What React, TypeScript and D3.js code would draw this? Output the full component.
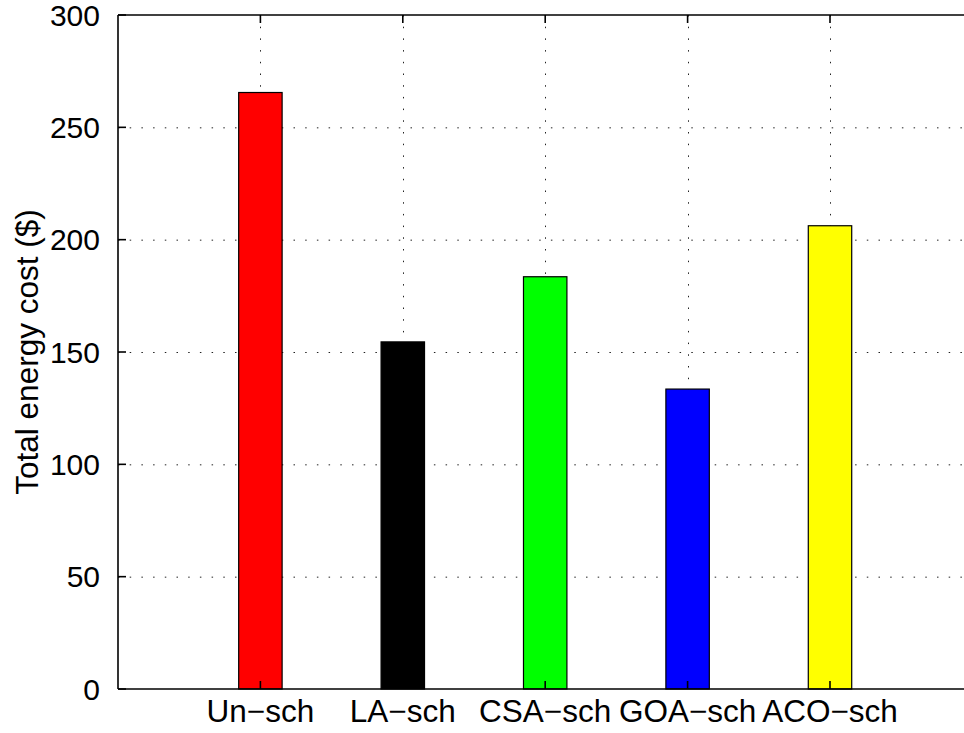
import React, { useEffect, useRef } from 'react';
import * as d3 from 'd3';

const categories = ['Un−sch', 'LA−sch', 'CSA−sch', 'GOA−sch', 'ACO−sch'];
const costs = [265.5, 154.5, 183.5, 133.5, 206.2];
const barColors = ['#ff0000', '#000000', '#00ff00', '#0000ff', '#ffff00'];
const yTicks = [0, 50, 100, 150, 200, 250, 300];

const width = 964;
const height = 733;

const App: React.FC = () => {
  const svgRef = useRef<SVGSVGElement>(null);

  useEffect(() => {
    const svg = d3.select(svgRef.current);
    svg.selectAll('*').remove();

    const margin = { top: 15, left: 118, bottom: 44 };
    const plotBottom = height - margin.bottom;
    const font = '"Liberation Sans", Arial, Helvetica, sans-serif';

    // category positions 1..5 on a [0,6] axis, the right side runs off the figure
    const x = d3.scaleLinear().domain([0, 6]).range([margin.left, margin.left + 6 * 142.4]);
    const y = d3.scaleLinear().domain([0, 300]).range([plotBottom, margin.top]);
    const barW = x(0.305) - x(0);
    const xRight = x(6);

    const g = svg.append('g');

    // grid
    const grid = g.append('g').attr('stroke', '#222').attr('stroke-width', 1).attr('stroke-dasharray', '1.5,10.2');
    yTicks.slice(1, -1).forEach(t => {
      grid.append('line')
        .attr('x1', margin.left).attr('x2', xRight)
        .attr('y1', y(t) + 0.5).attr('y2', y(t) + 0.5);
    });
    categories.forEach((_, i) => {
      grid.append('line')
        .attr('x1', Math.round(x(i + 1)) + 0.5).attr('x2', Math.round(x(i + 1)) + 0.5)
        .attr('y1', margin.top).attr('y2', plotBottom);
    });

    // bars
    categories.forEach((c, i) => {
      g.append('rect')
        .attr('x', x(i + 1) - barW / 2)
        .attr('y', y(costs[i]))
        .attr('width', barW)
        .attr('height', y(0) - y(costs[i]))
        .attr('fill', barColors[i])
        .attr('stroke', '#000')
        .attr('stroke-width', 1.2);
    });

    // axes box
    const ax = g.append('g').attr('stroke', '#000').attr('stroke-width', 1.6).attr('fill', 'none');
    ax.append('line').attr('x1', margin.left).attr('x2', xRight).attr('y1', margin.top).attr('y2', margin.top);
    ax.append('line').attr('x1', margin.left).attr('x2', xRight).attr('y1', plotBottom).attr('y2', plotBottom);
    ax.append('line').attr('x1', margin.left).attr('x2', margin.left).attr('y1', margin.top).attr('y2', plotBottom);

    const tickLen = 8;
    yTicks.forEach(t => {
      ax.append('line')
        .attr('x1', margin.left).attr('x2', margin.left + tickLen)
        .attr('y1', y(t)).attr('y2', y(t));
    });
    categories.forEach((_, i) => {
      const cx = x(i + 1);
      ax.append('line').attr('x1', cx).attr('x2', cx).attr('y1', plotBottom).attr('y2', plotBottom - tickLen);
      ax.append('line').attr('x1', cx).attr('x2', cx).attr('y1', margin.top).attr('y2', margin.top + tickLen);
    });

    // tick labels
    yTicks.forEach(t => {
      g.append('text')
        .attr('x', margin.left - 18)
        .attr('y', y(t))
        .attr('dy', '0.36em')
        .attr('text-anchor', 'end')
        .attr('font-family', font)
        .attr('font-size', 30)
        .attr('fill', '#000')
        .text(t);
    });
    categories.forEach((c, i) => {
      g.append('text')
        .attr('x', x(i + 1))
        .attr('y', plotBottom + 33)
        .attr('text-anchor', 'middle')
        .attr('font-family', font)
        .attr('font-size', 31.5)
        .attr('fill', '#000')
        .text(c);
    });

    g.append('text')
      .attr('transform', `translate(38,${(margin.top + plotBottom) / 2}) rotate(-90)`)
      .attr('text-anchor', 'middle')
      .attr('font-family', font)
      .attr('font-size', 31.5)
      .attr('fill', '#000')
      .text('Total energy cost ($)');
  }, []);

  return (
    <div style={{ width: `${width}px`, height: `${height}px` }}>
      <svg
        ref={svgRef}
        width={width}
        height={height}
        style={{ position: 'absolute', left: 0, top: 0, background: '#fff' }}
      ></svg>
    </div>
  );
};

export default App;
